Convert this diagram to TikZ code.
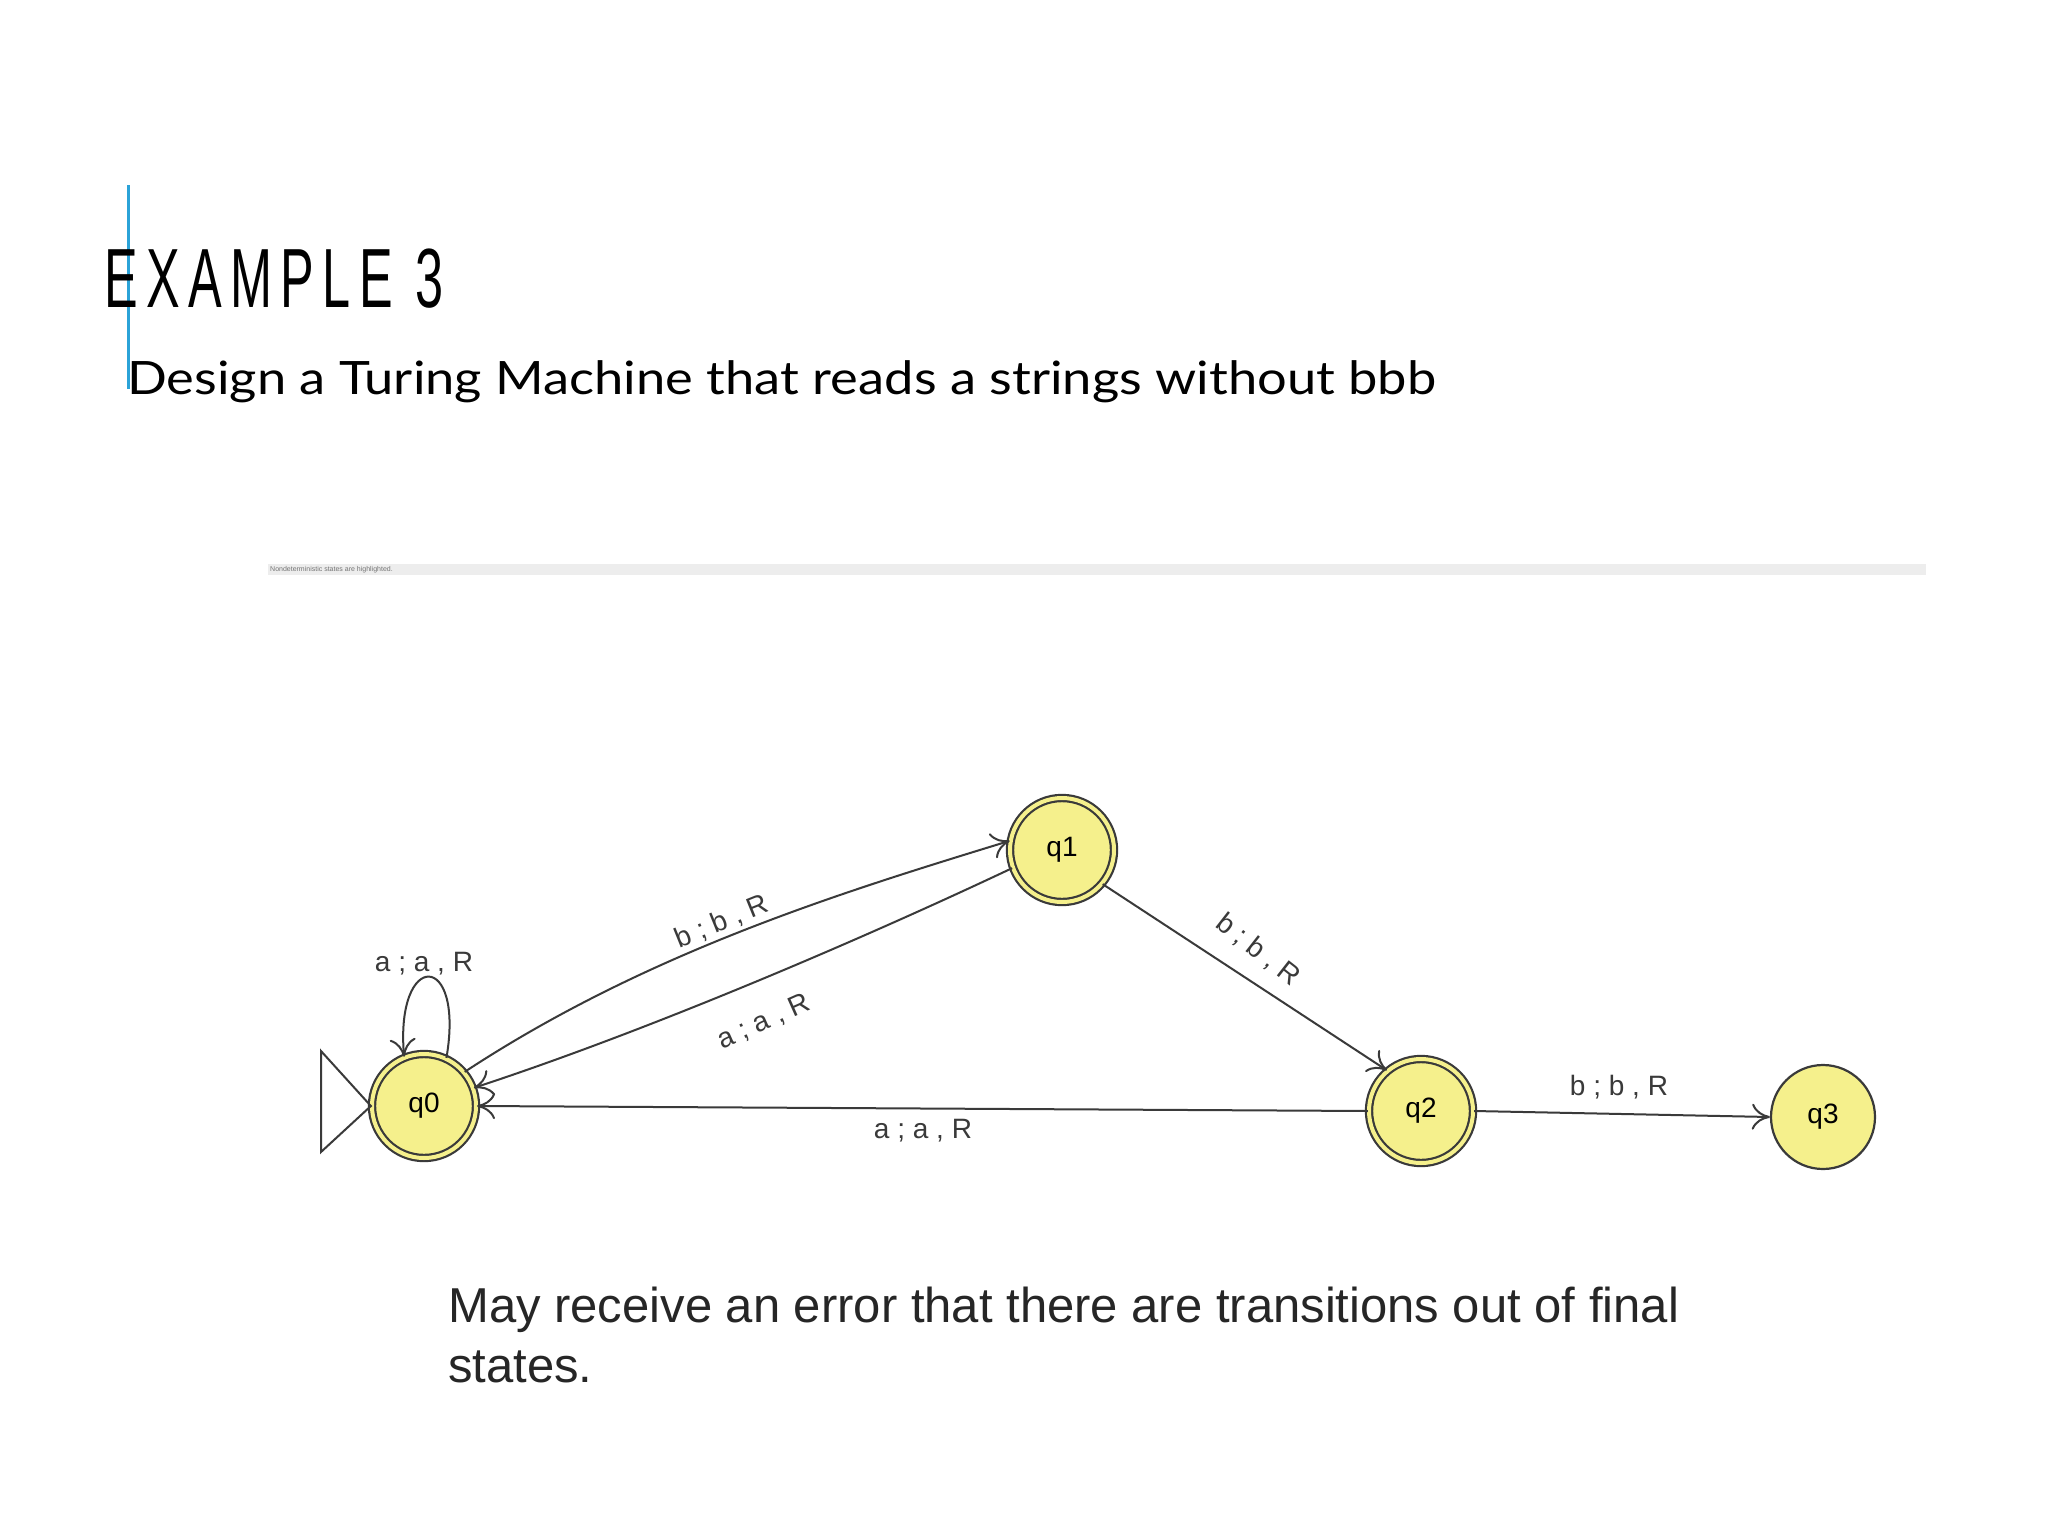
\documentclass[tikz,border=0pt]{standalone}
\usepackage{fontspec}
\setmainfont{Liberation Sans}
\newfontfamily\subfont{Lato}
\usetikzlibrary{arrows.meta}
\definecolor{stfill}{HTML}{F5F08C}
\definecolor{stline}{HTML}{3A3A3A}
\definecolor{accent}{HTML}{2BA3D8}
\tikzset{
 st/.style={circle,draw=stline,line width=2.2pt,fill=stfill,minimum size=104pt,inner sep=0pt,font=\fontsize{28}{30}\selectfont},
 acc/.style={st,double=stfill,double distance=4pt},
 tr/.style={draw=stline,line width=2pt,-{To[length=18pt,width=26pt]}},
 lb/.style={font=\fontsize{28}{30}\selectfont,text=stline,inner sep=2pt},
 bot/.style={anchor=base west,inner sep=0,text=black!85,font=\fontsize{49}{60}\selectfont}
}
\begin{document}
\begin{tikzpicture}[x=1pt,y=-1pt]
\useasboundingbox[fill=white] (0,0) rectangle (2048,1536);
\draw[accent,line width=3pt] (128,185) -- (128,389);
\node[anchor=base west,inner sep=0] (title) at (104,307) {\scalebox{0.6}[1]{\fontsize{84}{90}\selectfont E\,X\,A\,M\,P\,L\,E\, 3}};
\node[anchor=base west,inner sep=0] (sub) at (127,394) {\scalebox{1.14}[1]{\subfont\fontsize{46}{50}\selectfont Design a Turing Machine that reads a strings without bbb}};
\fill[black!7] (268,564) rectangle (1926,575);
\node[anchor=west,inner sep=0,text=black!55] (note) at (270,569.5) {\fontsize{7}{8}\selectfont Nondeterministic states are highlighted.};
\node[acc] (q0) at (424,1106) {q0};
\node[acc] (q1) at (1062,850) {q1};
\node[acc] (q2) at (1421,1111) {q2};
\node[st] (q3) at (1823,1117) {q3};
\coordinate (ta) at (321,1051);
\coordinate (tb) at (321,1152);
\draw[stline,line width=2pt] (q0.west) -- (ta) -- (tb) -- cycle;
\draw[tr] (q0.65) .. controls (465,950) and (395,950) .. (q0.112);
\node[lb] (l0) at (424,964) {a ; a , R};
\draw[tr] (q0.40) .. controls (650,950) and (850,890) .. (q1.170);
\node[lb,rotate=22] (l1) at (722,922) {b ; b , R};
\draw[tr] (q1.200) .. controls (860,940) and (650,1030) .. (q0.20);
\node[lb,rotate=24] (l2) at (764,1022) {a ; a , R};
\draw[tr] (q1.-40) -- (q2.130);
\node[lb,rotate=-38] (l3) at (1258,950) {b ; b , R};
\draw[tr] (q2.west) -- (q0.east);
\node[lb] (l4) at (923,1131) {a ; a , R};
\draw[tr] (q2.east) -- (q3.west);
\node[lb] (l5) at (1619,1087) {b ; b , R};
\node[bot] (bt1) at (448,1322) {May receive an error that there are transitions out of final};
\node[bot] (bt2) at (448,1382) {states.};
\end{tikzpicture}
\end{document}
